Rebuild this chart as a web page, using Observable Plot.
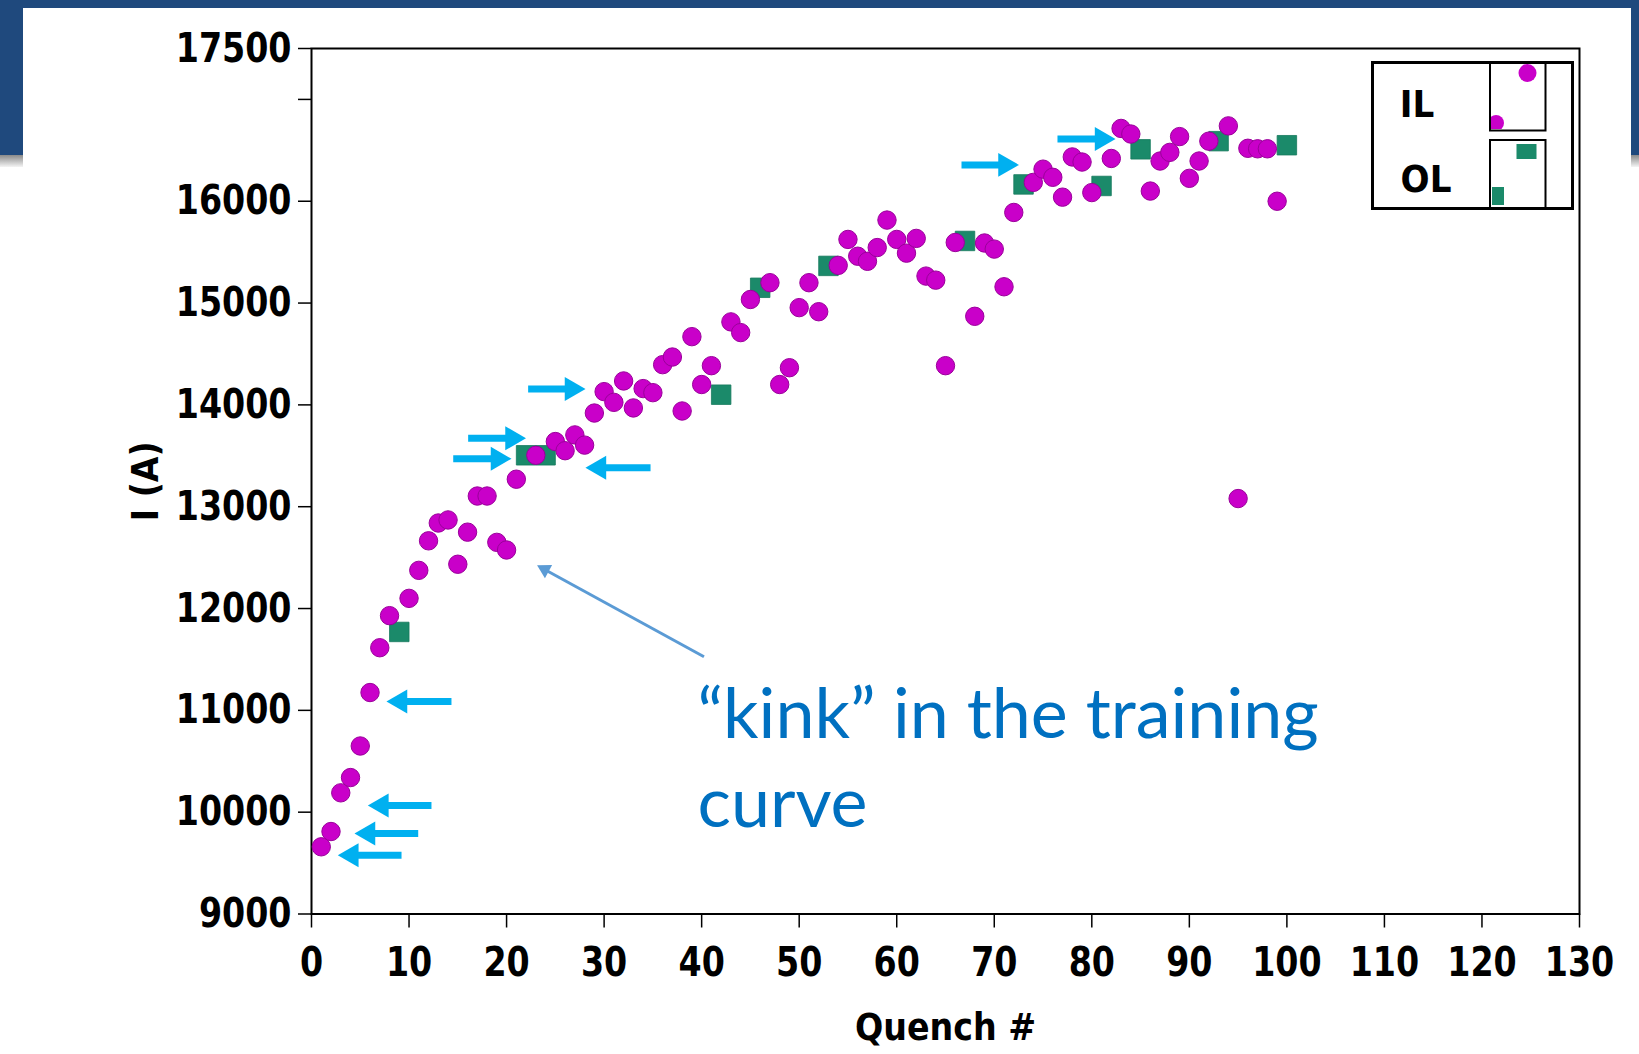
<!DOCTYPE html>
<html><head><meta charset="utf-8">
<script src="https://cdn.jsdelivr.net/npm/d3@7"></script>
<script src="https://cdn.jsdelivr.net/npm/@observablehq/plot@0.6"></script>
<style>
html,body{margin:0;padding:0;background:#fff;width:1639px;height:1054px;overflow:hidden;}
body{position:relative;}
.band{position:absolute;background:#1F497D;}
.shade{position:absolute;background:linear-gradient(#8a8a8a,#f4f4f4);}
#chart{position:absolute;left:0;top:0;}
#legend{position:absolute;left:1371px;top:61px;}
</style></head><body>
<div class="band" style="left:0;top:0;width:1639px;height:8px"></div>
<div class="band" style="left:0;top:0;width:23px;height:155px"></div>
<div class="band" style="left:1631px;top:0;width:8px;height:155px"></div>
<div class="shade" style="left:0;top:155px;width:23px;height:12px"></div>
<div class="shade" style="left:1631px;top:155px;width:8px;height:12px"></div>
<div id="chart"></div>
<div id="legend"></div>
<script>
// Quench current (A) for quenches 1..100
const quenchNo = d3.range(1, 101);
const currentA = [
  9660, 9810, 10190, 10340, 10650, 11175, 11615, 11930, 11770, 12100,
  12375, 12665, 12840, 12870, 12435, 12750, 13105, 13105, 12650, 12575,
  13270, 13505, 13505, 13505, 13640, 13550, 13705, 13605, 13920, 14130,
  14025, 14235, 13970, 14160, 14120, 14395, 14470, 13940, 14670, 14200,
  14385, 14100, 14815, 14710, 15035, 15150, 15200, 14200, 14365, 14955,
  15200, 14915, 15365, 15370, 15625, 15460, 15410, 15545, 15815, 15625,
  15490, 15635, 15265, 15225, 14385, 15595, 15610, 14870, 15590, 15530,
  15160, 15890, 16165, 16185, 16315, 16235, 16040, 16435, 16385, 16085,
  16150, 16420, 16715, 16660, 16510, 16100, 16395, 16480, 16635, 16225,
  16395, 16590, 16590, 16740, 13080, 16520, 16515, 16515, 16000, 16550
];
// quenches that started in the outer layer (OL); all others are inner layer (IL)
const olQuenches = [9, 22, 24, 42, 46, 53, 67, 73, 81, 85, 93, 100];

const xTicks = [0, 10, 20, 30, 40, 50, 60, 70, 80, 90, 100, 110, 120, 130];
const yTicks = [9000, 10000, 11000, 12000, 13000, 14000, 15000, 16000, 17000, 17500];
const yUnlabeled = [17000];

// cyan highlight arrows (annotation): tail x, tip x, y
const arrowTailX = [14.35, 12.30, 10.94, 9.23, 34.76, 22.21, 16.06, 14.53, 66.64, 76.48];
const arrowTipX  = [ 7.69,  5.78,  4.41, 2.70, 28.09, 28.09, 21.99, 20.50, 72.53, 82.43];
const arrowY     = [11087, 10066, 9790, 9576, 13382, 14155, 13672, 13471, 16357, 16611];

// "kink" annotation
const kinkArrowFrom = [40.24, 11527];
const kinkArrowTo = [23.13, 12424];
const kinkLabel = "\u201Ckink\u201D in the training\ncurve";
const kinkLabelAt = [39.57, 9852];

const points = quenchNo.map((q, i) => ({q, I: currentA[i], type: olQuenches.includes(q) ? "OL" : "IL"}));
const arrows = arrowTailX.map((t, i) => ({x1: t, x2: arrowTipX[i], y: arrowY[i], dir: arrowTipX[i] > t ? "right" : "left"}));

const MAG = "#c900c9", GRN = "#1b8a6a", CYAN = "#00b0f0", STEEL = "#5b9bd5";

const chart = Plot.plot({
  width: 1639, height: 1054,
  marginLeft: 311, marginRight: 60, marginTop: 48, marginBottom: 140.5,
  x: {domain: [0, 130]},
  y: {domain: [9000, 17500]},
  style: {fontFamily: "'DejaVu Sans Condensed','DejaVu Sans',sans-serif", fontWeight: "bold", fontSize: "36px", color: "black", background: "transparent", overflow: "visible"},
  marks: [
    Plot.axisY(yTicks, {tickSize: 13, tickPadding: 7, strokeWidth: 1.5,
      tickFormat: d => yUnlabeled.includes(d) ? "" : String(d),
      label: "I (A)", labelAnchor: "center", labelArrow: "none", labelOffset: 180, fontSize: 37}),
    Plot.axisX(xTicks, {tickSize: 14, tickPadding: 19, strokeWidth: 1.5,
      tickFormat: d => String(d),
      label: "Quench #", labelAnchor: "center", labelArrow: "none", labelOffset: 126, fontSize: 37}),
    Plot.frame({stroke: "black", strokeWidth: 2}),
    Plot.dot(points.filter(d => d.type === "OL"), {x: "q", y: "I", symbol: "square", r: 11, fill: GRN, stroke: "#177a5d", strokeWidth: 0.8}),
    Plot.dot(points.filter(d => d.type === "IL"), {x: "q", y: "I", symbol: "circle", r: 9.2, fill: MAG, stroke: "#9a009a", strokeWidth: 1}),
    Plot.arrow(arrows, {x1: "x1", x2: "x2", y1: "y", y2: "y", stroke: CYAN, strokeWidth: 7, headLength: 0, insetEnd: 14, strokeLinecap: "butt"}),
    Plot.dot(arrows.filter(d => d.dir === "right"), {x: "x2", y: "y", symbol: "triangle", r: 8.9, rotate: 90, dx: -13.8, fill: CYAN}),
    Plot.dot(arrows.filter(d => d.dir === "left"), {x: "x2", y: "y", symbol: "triangle", r: 8.9, rotate: -90, dx: 13.8, fill: CYAN}),
    Plot.arrow([{x1: kinkArrowFrom[0], y1: kinkArrowFrom[1], x2: kinkArrowTo[0], y2: kinkArrowTo[1]}],
      {x1: "x1", y1: "y1", x2: "x2", y2: "y2", stroke: STEEL, strokeWidth: 3, headLength: 0, insetEnd: 7, strokeLinecap: "butt"}),
    Plot.dot([{x: kinkArrowTo[0], y: kinkArrowTo[1]}], {x: "x", y: "y", symbol: "triangle", r: 5.6, rotate: -61.4, dx: 7.6, dy: 4.15, fill: STEEL}),
    Plot.text([{x: kinkLabelAt[0], y: kinkLabelAt[1], t: kinkLabel}], {x: "x", y: "y", text: "t",
      textAnchor: "start", lineAnchor: "bottom", lineHeight: 1.27, fontSize: 70, fontWeight: "normal",
      fontFamily: "Lato, 'Open Sans', sans-serif", fill: "#0070c0"})
  ]
});
// the original tick labels are slightly taller than they are wide
d3.select(chart).selectAll('g[aria-label="x-axis tick label"] text, g[aria-label="y-axis tick label"] text')
  .attr("transform", function () { return (this.getAttribute("transform") || "") + " scale(1,1.1)"; });
document.getElementById("chart").appendChild(chart);

// legend box (as in the original figure)
const legendItems = ["IL", "OL"];
const lg = d3.select("#legend").append("svg").attr("width", 204).attr("height", 150)
  .style("font-family", "'DejaVu Sans Condensed','DejaVu Sans',sans-serif").style("font-weight", "bold");
const defs = lg.append("defs");
legendItems.forEach((k, i) => {
  defs.append("clipPath").attr("id", "clip" + k).append("rect")
    .attr("x", 120).attr("y", 2 + i * 77).attr("width", 54).attr("height", 66);
});
lg.append("rect").attr("x", 1.5).attr("y", 1.5).attr("width", 200).attr("height", 146)
  .attr("fill", "white").attr("stroke", "black").attr("stroke-width", 3);
legendItems.forEach((k, i) => {
  const y0 = 1.5 + i * 77.5;
  lg.append("text").attr("x", i ? 55 : 46).attr("y", i ? 131 : 56).attr("text-anchor", "middle")
    .attr("font-size", 38).text(k);
  const g = lg.append("g").attr("clip-path", `url(#clip${k})`);
  if (k === "IL") {
    g.append("circle").attr("cx", 156.5).attr("cy", 12).attr("r", 9).attr("fill", MAG);
    g.append("circle").attr("cx", 125).attr("cy", 62).attr("r", 8).attr("fill", MAG);
  } else {
    g.append("rect").attr("x", 145.5).attr("y", 83).attr("width", 20).attr("height", 15).attr("fill", GRN);
    g.append("rect").attr("x", 121).attr("y", 126).attr("width", 12).attr("height", 18).attr("fill", GRN);
  }
  lg.append("rect").attr("x", 119).attr("y", y0).attr("width", 55.5).attr("height", 68)
    .attr("fill", "none").attr("stroke", "black").attr("stroke-width", 2);
});
</script>
</body></html>
